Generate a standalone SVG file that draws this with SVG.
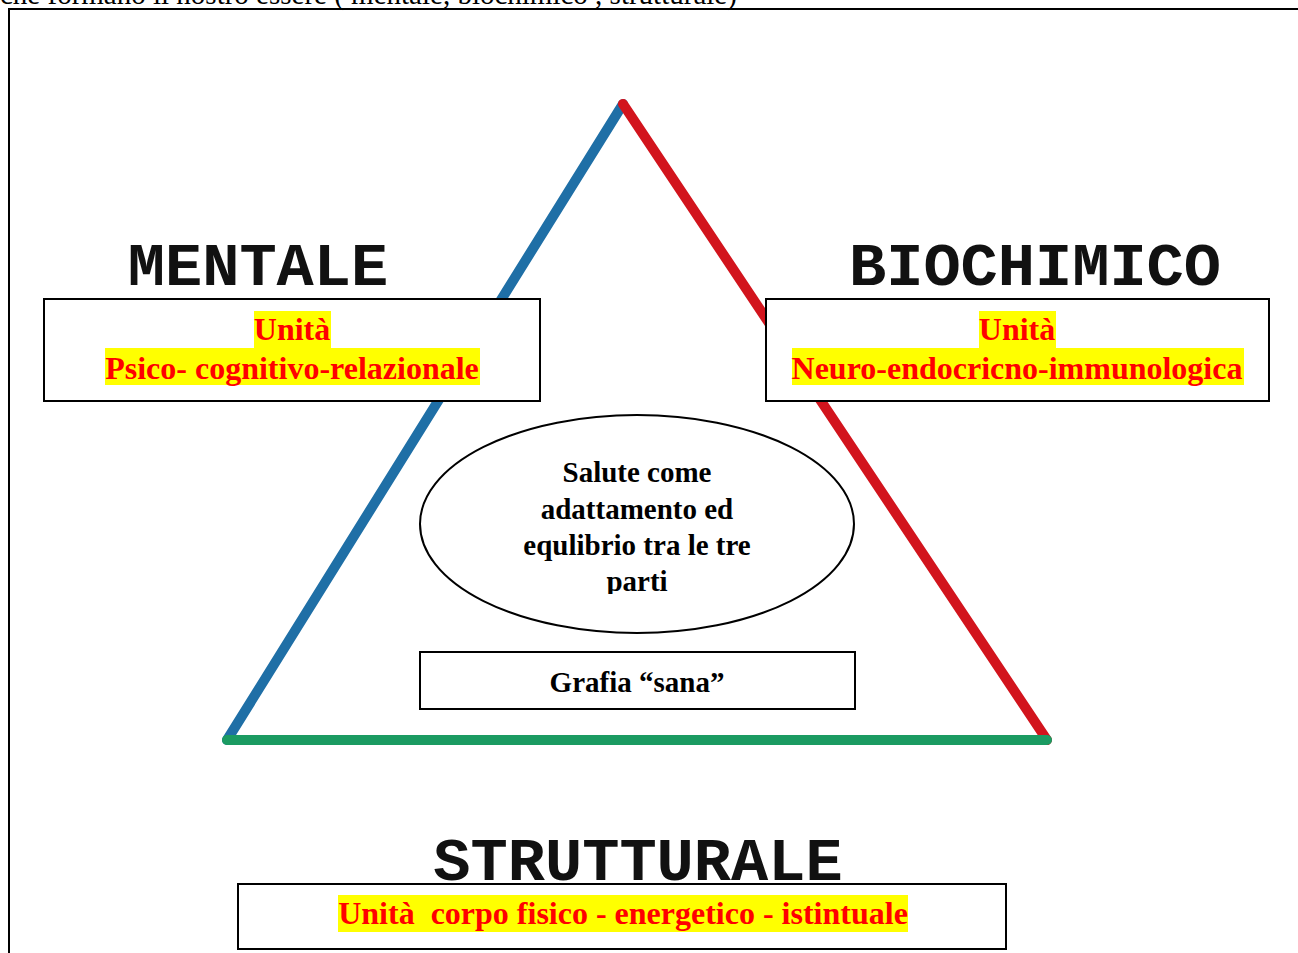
<svg xmlns="http://www.w3.org/2000/svg" width="1298" height="953" viewBox="0 0 1298 953">
<defs>
<style>
.frame{fill:none;stroke:#000;stroke-width:2}
.box{fill:#fff;stroke:#000;stroke-width:2}
.hl{fill:#ffff00}
.red{font-family:"Liberation Serif","Times New Roman",serif;font-weight:bold;font-size:32px;fill:#ff0000;text-anchor:middle}
.blk{font-family:"Liberation Serif","Times New Roman",serif;font-weight:bold;font-size:29px;fill:#000;text-anchor:middle}
.big{font-family:"Liberation Mono","Courier New",monospace;font-weight:bold;font-size:62px;fill:#111;text-anchor:middle}
.edge{stroke-width:10;stroke-linecap:round;fill:none}
</style>
<clipPath id="clipEll"><rect x="420" y="415" width="440" height="179"/></clipPath>
</defs>
<rect width="1298" height="953" fill="#fff"/>
<text x="0" y="4" font-family="Liberation Serif, serif" font-size="29" fill="#000">che formano il nostro essere ( mentale, biochimico , strutturale)</text>
<path class="frame" d="M9,953 V9 H1298"/>

<g id="connectors">
<line class="edge" x1="227" y1="740" x2="623" y2="104" stroke="#1f6fa6"/>
<line class="edge" x1="623" y1="104" x2="1047" y2="740" stroke="#d2141d"/>
<line class="edge" x1="227" y1="740" x2="1047" y2="740" stroke="#1b9b62" stroke-width="12"/>
</g>

<g id="mentale">
<text class="big" x="258" y="285">MENTALE</text>
<rect class="box" x="44" y="299" width="496" height="102"/>
<rect class="hl" x="254" y="311" width="77" height="37"/>
<rect class="hl" x="105" y="348" width="375" height="37"/>
<text class="red" x="292" y="340">Unità</text>
<text class="red" x="292" y="379">Psico- cognitivo-relazionale</text>
</g>

<g id="biochimico">
<text class="big" x="1035" y="285">BIOCHIMICO</text>
<rect class="box" x="766" y="299" width="503" height="102"/>
<rect class="hl" x="979" y="311" width="77" height="37"/>
<rect class="hl" x="792" y="348" width="452" height="37"/>
<text class="red" x="1017" y="340">Unità</text>
<text class="red" x="1017" y="379">Neuro-endocricno-immunologica</text>
</g>

<g id="salute">
<ellipse cx="637" cy="524" rx="217" ry="109" fill="#fff" stroke="#000" stroke-width="2"/>
<g clip-path="url(#clipEll)">
<text class="blk" x="637" y="482">Salute come</text>
<text class="blk" x="637" y="519">adattamento ed</text>
<text class="blk" x="637" y="555">equlibrio tra le tre</text>
<text class="blk" x="637" y="591">parti</text>
</g>
</g>

<g id="grafia">
<rect class="box" x="420" y="652" width="435" height="57"/>
<text class="blk" x="637" y="692" font-size="33">Grafia “sana”</text>
</g>

<g id="strutturale">
<text class="big" x="638" y="880">STRUTTURALE</text>
<rect class="box" x="238" y="884" width="768" height="65"/>
<rect class="hl" x="338" y="895" width="570" height="37"/>
<text class="red" x="623" y="924" xml:space="preserve">Unità  corpo fisico - energetico - istintuale</text>
</g>
</svg>
